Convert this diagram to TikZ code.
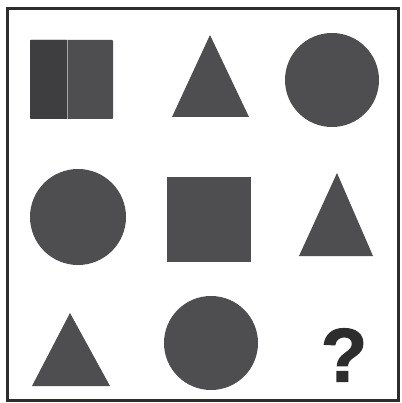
\documentclass[tikz,border=0pt]{standalone}
\definecolor{shapeGray}{RGB}{78,78,80}
\definecolor{darkGray}{RGB}{62,62,64}
\definecolor{frameGray}{RGB}{45,45,45}
\usepackage{fontspec}
\newfontfamily\qfont[BoldFeatures={FakeBold=1.5}]{Liberation Sans}
\usepackage{tikz}
\usetikzlibrary{positioning,calc}

\begin{document}
\begin{tikzpicture}[x=1pt,y=-1pt,
    piece/.style={fill=shapeGray, draw=none}]
    \useasboundingbox (0,0) rectangle (401,403);
    \fill[white] (0,0) rectangle (401,403);

    % frame
    \draw[frameGray, line width=3pt] (7,9) rectangle (398,400);

    % Row 1: square, triangle, circle
    \fill[piece, rounded corners=1pt] (30,40) rectangle (113,119);
    \fill[darkGray, rounded corners=1pt] (30,40) rectangle (67,119);
    \draw[gray!70, line width=0.8pt] (67,40) -- (67,119);
    \fill[piece] (210,35) -- (249,117) -- (172,117) -- cycle;
    \fill[piece] (332,80) circle (47);

    % Row 2: circle, square, triangle
    \fill[piece] (78,217) circle (48);
    \fill[piece] (167,177) rectangle (251,262);
    \fill[piece] (337,173) -- (373,256) -- (299,256) -- cycle;

    % Row 3: triangle, circle, ?
    \fill[piece] (70,313) -- (110,386) -- (32,386) -- cycle;
    \fill[piece] (211,343) circle (47);
    \node[text=frameGray, inner sep=0pt] (qmark) at (344,355)
        {\qfont\bfseries\fontsize{76}{76}\selectfont ?};
\end{tikzpicture}
\end{document}
